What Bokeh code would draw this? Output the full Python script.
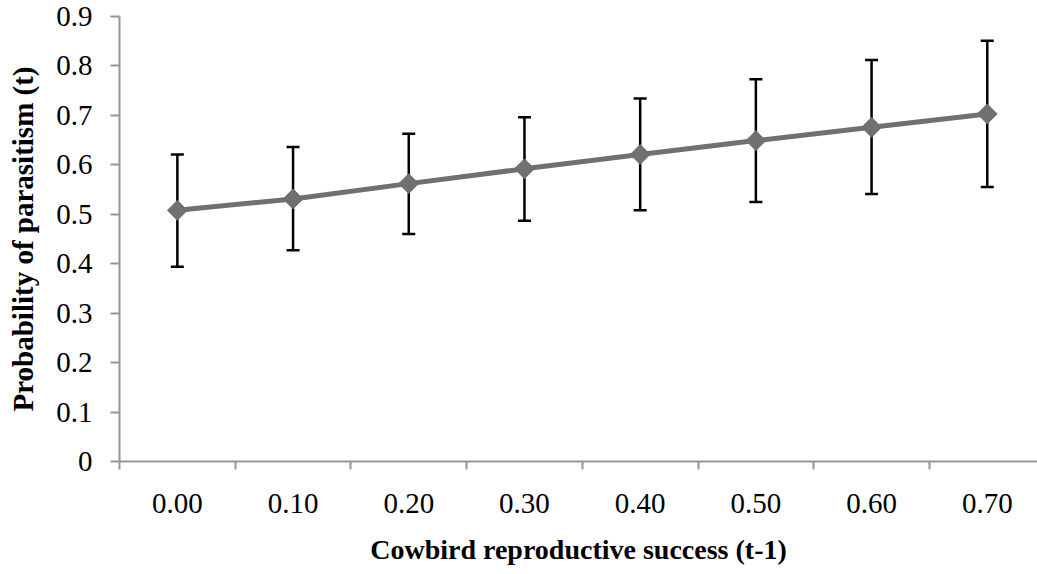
import math
from bokeh.plotting import figure
from bokeh.models import ColumnDataSource, FixedTicker, Whisker, TeeHead, Range1d
from bokeh.embed import file_html
from bokeh.resources import INLINE

categories = ["0.00", "0.10", "0.20", "0.30", "0.40", "0.50", "0.60", "0.70"]
prob = [0.508, 0.531, 0.562, 0.592, 0.621, 0.649, 0.676, 0.703]
upper = [0.621, 0.636, 0.663, 0.696, 0.734, 0.773, 0.812, 0.851]
lower = [0.394, 0.427, 0.460, 0.487, 0.508, 0.525, 0.541, 0.555]
y_ticks = [0, 0.1, 0.2, 0.3, 0.4, 0.5, 0.6, 0.7, 0.8, 0.9]
y_tick_labels = ["0", "0.1", "0.2", "0.3", "0.4", "0.5", "0.6", "0.7", "0.8", "0.9"]

xpos = list(range(len(categories)))
src = ColumnDataSource(dict(x=xpos, y=prob, upper=upper, lower=lower))

FONT = "Liberation Serif"
AXIS_COL = "#969696"

W, H = 1037, 574
p = figure(width=W, height=H, output_backend="svg", toolbar_location=None,
           x_range=Range1d(-0.5, 7.434), y_range=Range1d(0, 0.9),
           min_border_left=119, min_border_right=0, min_border_top=16, min_border_bottom=113)
p.outline_line_color = None
p.grid.grid_line_color = None
p.background_fill_color = "white"

# x axis
p.xaxis.ticker = FixedTicker(ticks=xpos, minor_ticks=[i - 0.5 for i in range(len(categories) + 1)])
p.xaxis.major_label_overrides = {i: c for i, c in zip(xpos, categories)}
p.xaxis.major_tick_out = 0
p.xaxis.major_tick_in = 0
p.xaxis.minor_tick_out = 8
p.xaxis.minor_tick_in = 0
p.xaxis.minor_tick_line_color = AXIS_COL
p.xaxis.minor_tick_line_width = 2
p.xaxis.axis_line_color = AXIS_COL
p.xaxis.axis_line_width = 2
p.xaxis.major_label_standoff = 24
p.xaxis.major_label_text_font = FONT
p.xaxis.major_label_text_font_size = "29px"
p.xaxis.major_label_text_color = "black"
p.xaxis.axis_label = "Cowbird reproductive success (t-1)"
p.xaxis.axis_label_text_font = FONT
p.xaxis.axis_label_text_font_style = "bold"
p.xaxis.axis_label_text_font_size = "28px"
p.xaxis.axis_label_text_color = "black"
p.xaxis.axis_label_standoff = 18

# y axis
p.yaxis.ticker = FixedTicker(ticks=y_ticks, minor_ticks=[])
p.yaxis.major_label_overrides = {t: l for t, l in zip(y_ticks, y_tick_labels)}
p.yaxis.major_tick_out = 9
p.yaxis.major_tick_in = 0
p.yaxis.major_tick_line_color = AXIS_COL
p.yaxis.major_tick_line_width = 2
p.yaxis.axis_line_color = AXIS_COL
p.yaxis.axis_line_width = 2
p.yaxis.major_label_standoff = 18
p.yaxis.major_label_text_font = FONT
p.yaxis.major_label_text_font_size = "29px"
p.yaxis.major_label_text_color = "black"
p.yaxis.axis_label = "Probability of parasitism (t)"
p.yaxis.axis_label_text_font = FONT
p.yaxis.axis_label_text_font_style = "bold"
p.yaxis.axis_label_text_font_size = "29px"
p.yaxis.axis_label_text_color = "black"
p.yaxis.axis_label_standoff = 14

w = Whisker(base="x", upper="upper", lower="lower", source=src,
            line_color="black", line_width=2.5,
            upper_head=TeeHead(size=13, line_color="black", line_width=2.5),
            lower_head=TeeHead(size=13, line_color="black", line_width=2.5))
p.add_layout(w)

p.line("x", "y", source=src, line_color="#707070", line_width=5)
p.scatter("x", "y", source=src, marker="square", size=14, angle=math.pi / 4,
          fill_color="#707070", line_color="#707070")

open("out.html", "w").write(file_html(p, INLINE))
